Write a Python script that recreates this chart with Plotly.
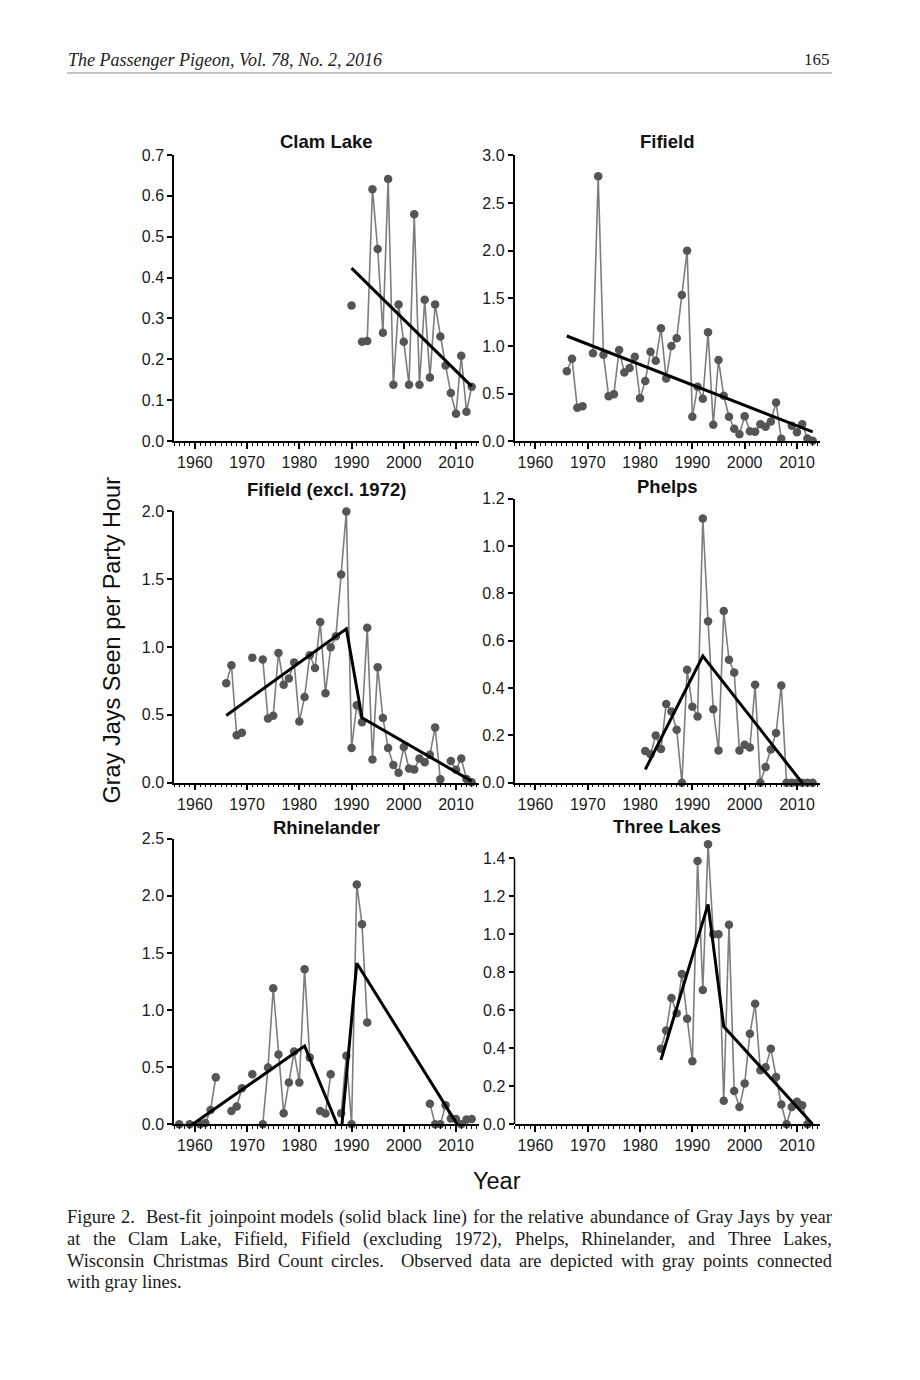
import plotly.graph_objects as go

W, H = 920, 1380

# ---------------- data ----------------
clam_years = list(range(1990, 2014))
clam_vals = [0.332, None, 0.243, 0.245, 0.616, 0.470, 0.265, 0.641, 0.138, 0.334,
             0.243, 0.138, 0.555, 0.138, 0.346, 0.156, 0.334, 0.256, 0.185, 0.118,
             0.067, 0.209, 0.072, 0.133]
clam_fit_years = [1990, 2013]
clam_fit = [0.423, 0.134]

fif_years = list(range(1966, 2014))
fif_vals = [0.733, 0.866, 0.350, 0.368, None, 0.922, 2.780, 0.908, 0.473, 0.494,
            0.957, 0.722, 0.768, 0.887, 0.452, 0.631, 0.939, 0.845, 1.185, 0.659,
            0.999, 1.080, 1.535, 1.998, 0.256, 0.571, 0.445, 1.143, 0.172, 0.852,
            0.477, 0.256, 0.130, 0.074, 0.263, 0.105, 0.098, 0.179, 0.151, 0.207,
            0.407, 0.025, None, 0.161, 0.095, 0.179, 0.028, 0.004]
fif_fit_years = [1966, 2013]
fif_fit = [1.104, 0.098]

fifx_years = list(range(1966, 2014))
fifx_vals = [0.733, 0.866, 0.350, 0.368, None, 0.922, None, 0.908, 0.473, 0.494,
             0.957, 0.722, 0.768, 0.887, 0.452, 0.631, 0.939, 0.845, 1.185, 0.659,
             0.999, 1.080, 1.535, 1.998, 0.256, 0.571, 0.445, 1.143, 0.172, 0.852,
             0.477, 0.256, 0.130, 0.074, 0.263, 0.105, 0.098, 0.179, 0.151, 0.207,
             0.407, 0.025, None, 0.161, 0.095, 0.179, 0.028, 0.004]
fifx_fit_years = [1966, 1989, 1992, 2013]
fifx_fit = [0.496, 1.134, 0.479, 0.012]

phe_years = list(range(1981, 2014))
phe_vals = [0.134, 0.120, 0.200, 0.143, 0.333, 0.301, 0.224, 0.0, 0.477, 0.321,
            0.280, 1.116, 0.682, 0.310, 0.136, 0.725, 0.520, 0.466, 0.136, 0.160,
            0.149, 0.414, 0.0, 0.066, 0.140, 0.210, 0.411, 0.0, 0.0, 0.0,
            0.0, 0.0, 0.0]
phe_fit_years = [1981, 1992, 2013]
phe_fit = [0.056, 0.535, -0.057]

rhi_years = list(range(1957, 2014))
rhi_vals = [0.0, None, 0.0, None, 0.0, 0.010, 0.125, 0.410, None, None,
            0.116, 0.155, 0.315, None, 0.437, None, 0.0, 0.496, 1.190, 0.610,
            0.096, 0.365, 0.636, 0.365, 1.356, 0.583, None, 0.116, 0.094, 0.437,
            None, 0.096, 0.600, 0.0, 2.100, 1.750, 0.890, None, None, None,
            None, None, None, None, None, None, None, None, 0.180, 0.0,
            0.0, 0.166, 0.050, 0.045, 0.0, 0.040, 0.045]
rhi_fit_years = [1957, 1981, 1988, 1991, 2013]
rhi_fit = [-0.083, 0.685, -0.085, 1.410, -0.205]

thr_years = list(range(1984, 2014))
thr_vals = [0.398, 0.493, 0.665, 0.584, 0.791, 0.556, 0.332, 1.386, 0.707, 1.475,
            1.000, 1.000, 0.123, 1.050, 0.175, 0.091, 0.214, 0.477, 0.635, 0.284,
            0.300, 0.398, 0.249, 0.104, 0.0, 0.091, 0.118, 0.100, 0.0, None]
thr_fit_years = [1984, 1993, 1996, 2013]
thr_fit = [0.339, 1.158, 0.514, 0.0]

titles = ["Clam Lake", "Fifield", "Fifield (excl. 1972)", "Phelps", "Rhinelander", "Three Lakes"]
y_tops = [0.7, 3.0, 2.0, 1.2, 2.5, 1.5]
y_dticks = [0.1, 0.5, 0.5, 0.2, 0.5, 0.2]
x_ticks = [1960, 1970, 1980, 1990, 2000, 2010]

panels = [
    (clam_years, clam_vals, clam_fit_years, clam_fit),
    (fif_years, fif_vals, fif_fit_years, fif_fit),
    (fifx_years, fifx_vals, fifx_fit_years, fifx_fit),
    (phe_years, phe_vals, phe_fit_years, phe_fit),
    (rhi_years, rhi_vals, rhi_fit_years, rhi_fit),
    (thr_years, thr_vals, thr_fit_years, thr_fit),
]

header_text = "The Passenger Pigeon, Vol. 78, No. 2, 2016"
page_number = "165"
caption_lines = [
    "Figure 2.  Best-fit joinpoint models (solid black line) for the relative abundance of Gray Jays by year",
    "at the Clam Lake, Fifield, Fifield (excluding 1972), Phelps, Rhinelander, and Three Lakes,",
    "Wisconsin Christmas Bird Count circles.  Observed data are depicted with gray points connected",
    "with gray lines.",
]

# ---------------- geometry helpers (reference pixels -> paper) ----------------
def sx(p):
    return (p - 6) / W

def sy(p):
    return 1 - ((p - 16) / 0.9884) / H

x_dom = [(172, 477), (512.5, 818)]
y_dom = [(155, 441.5), (155.5, 441.5), (511.7, 783.3), (499, 783.3), (839.3, 1125), (840, 1125)]
title_y = [142, 142, 490, 487, 828, 827]

SANS = "Liberation Sans, Arial, sans-serif"
SERIF = "Liberation Serif, Times New Roman, serif"

# Times / Liberation Serif advance widths (1/1000 em) for justification
TW = {" ": 250, "!": 333, "(": 333, ")": 333, ",": 250, "-": 333, ".": 250, ":": 278,
      "0": 500, "1": 500, "2": 500, "3": 500, "4": 500, "5": 500, "6": 500, "7": 500,
      "8": 500, "9": 500,
      "A": 722, "B": 667, "C": 667, "D": 722, "E": 611, "F": 556, "G": 722, "H": 722,
      "I": 333, "J": 389, "K": 722, "L": 611, "M": 889, "N": 722, "O": 722, "P": 556,
      "Q": 722, "R": 667, "S": 556, "T": 611, "U": 722, "V": 722, "W": 944, "X": 722,
      "Y": 722, "Z": 611,
      "a": 444, "b": 500, "c": 444, "d": 500, "e": 444, "f": 333, "g": 500, "h": 500,
      "i": 278, "j": 278, "k": 500, "l": 278, "m": 778, "n": 500, "o": 500, "p": 500,
      "q": 500, "r": 333, "s": 389, "t": 278, "u": 500, "v": 500, "w": 722, "x": 500,
      "y": 500, "z": 444}

def text_w(s, size):
    return sum(TW.get(c, 500) for c in s) / 1000.0 * size

fig = go.Figure()
layout = dict(
    width=W, height=H, margin=dict(l=0, r=0, t=0, b=0),
    paper_bgcolor="white", plot_bgcolor="white", showlegend=False,
)
annotations = []
shapes = []

for i, (yrs, vals, fyrs, fvals) in enumerate(panels):
    n = i + 1
    xa = "x" if n == 1 else f"x{n}"
    ya = "y" if n == 1 else f"y{n}"
    xd = x_dom[i % 2]
    yd = y_dom[i]
    fig.add_trace(go.Scatter(
        x=yrs, y=vals, xaxis=xa, yaxis=ya, mode="lines+markers",
        line=dict(color="#7d7d7d", width=1.6),
        marker=dict(color="#555555", size=8.5),
        connectgaps=False, cliponaxis=False, hoverinfo="skip",
    ))
    fig.add_trace(go.Scatter(
        x=fyrs, y=fvals, xaxis=xa, yaxis=ya, mode="lines",
        line=dict(color="black", width=3), hoverinfo="skip",
    ))
    layout[f"xaxis{'' if n == 1 else n}"] = dict(
        domain=[sx(xd[0]), sx(xd[1])], anchor=ya, range=[1956, 2014.4],
        tickmode="array", tickvals=x_ticks, ticks="outside", ticklen=6, tickwidth=1.5,
        tickcolor="black", showline=True, linecolor="black", linewidth=1.5,
        showgrid=False, zeroline=False,
        tickfont=dict(family=SANS, size=16, color="#1a1a1a"),
        minor=dict(tickmode="linear", tick0=1956, dtick=1, ticks="outside",
                   ticklen=3, tickwidth=1, tickcolor="black", showgrid=False),
    )
    is_three = (n == 6)
    layout[f"yaxis{'' if n == 1 else n}"] = dict(
        domain=[sy(yd[1]), sy(yd[0])], anchor=xa, range=[0, y_tops[i]],
        tickmode="linear", tick0=0, dtick=y_dticks[i], tickformat=".1f",
        ticks="outside", ticklen=5, tickwidth=1.5, tickcolor="black",
        showline=not is_three, linecolor="black", linewidth=1.5,
        showgrid=False, zeroline=False,
        tickfont=dict(family=SANS, size=16, color="#1a1a1a"),
    )
    if is_three:
        shapes.append(dict(type="line", xref=f"{xa} domain", yref=ya,
                           x0=0, x1=0, y0=0, y1=1.4,
                           line=dict(color="black", width=1.5)))
    annotations.append(dict(
        text=f"<b>{titles[i]}</b>", xref="paper", yref="paper",
        x=sx((xd[0] + xd[1]) / 2), y=sy(title_y[i]),
        xanchor="center", yanchor="middle", showarrow=False,
        font=dict(family=SANS, size=18.5, color="#111"),
    ))

# axis titles
annotations.append(dict(
    text="Gray Jays Seen per Party Hour", xref="paper", yref="paper",
    x=sx(110), y=sy(641), textangle=-90, showarrow=False,
    xanchor="center", yanchor="middle",
    font=dict(family=SANS, size=23.5, color="#111"),
))
annotations.append(dict(
    text="Year", xref="paper", yref="paper",
    x=sx(495), y=sy(1182), showarrow=False,
    xanchor="center", yanchor="middle",
    font=dict(family=SANS, size=23.5, color="#111"),
))

# page header
annotations.append(dict(
    text=f"<i>{header_text}</i>", xref="paper", yref="paper",
    x=sx(64), y=sy(60), xanchor="left", yanchor="middle", showarrow=False,
    font=dict(family=SERIF, size=18, color="#222"),
))
annotations.append(dict(
    text=page_number, xref="paper", yref="paper",
    x=sx(830), y=sy(60), xanchor="right", yanchor="middle", showarrow=False,
    font=dict(family=SERIF, size=17, color="#222"),
))
shapes.append(dict(type="line", xref="paper", yref="paper",
                   x0=sx(65), x1=sx(830), y0=sy(73), y1=sy(73),
                   line=dict(color="#888", width=1)))

# caption (justified lines 1-3, last line flush left)
CAP_SIZE = 18.5
cap_left, cap_right = 65, 830
cap_y = [1218, 1240, 1262, 1283]
for li, (line, cy) in enumerate(zip(caption_lines, cap_y)):
    if li == len(caption_lines) - 1:
        annotations.append(dict(
            text=line, xref="paper", yref="paper",
            x=sx(cap_left - 1), y=sy(cy), xanchor="left", yanchor="middle",
            showarrow=False, borderpad=0,
            font=dict(family=SERIF, size=CAP_SIZE, color="#1a1a1a"),
        ))
        continue
    tokens = line.split(" ")
    content = sum(text_w(t, CAP_SIZE) for t in tokens)
    gap = (cap_right - cap_left - content) / (len(tokens) - 1)
    xpos = cap_left
    for t in tokens:
        if t:
            annotations.append(dict(
                text=t, xref="paper", yref="paper",
                x=sx(xpos - 1), y=sy(cy), xanchor="left", yanchor="middle",
                showarrow=False, borderpad=0,
                font=dict(family=SERIF, size=CAP_SIZE, color="#1a1a1a"),
            ))
        xpos += text_w(t, CAP_SIZE) + gap

layout["annotations"] = annotations
layout["shapes"] = shapes
fig.update_layout(**layout)
fig.write_html("out.html")
